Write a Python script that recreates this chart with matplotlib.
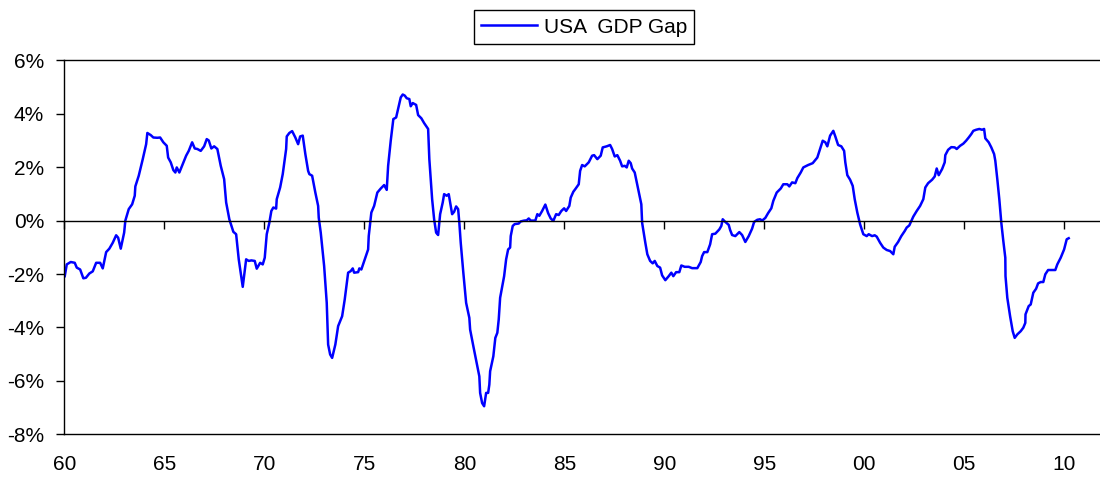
import matplotlib
matplotlib.use("Agg")
import matplotlib.pyplot as plt
import numpy as np

plt.rcParams["font.family"] = ["Liberation Sans", "DejaVu Sans"]

# USA output gap (%)
years = [
    1960.02, 1960.12, 1960.32, 1960.52, 1960.62, 1960.79, 1960.95, 1961.08, 1961.25, 1961.42,
    1961.59, 1961.79, 1961.92, 1962.09, 1962.25, 1962.42, 1962.59, 1962.69, 1962.82, 1962.99,
    1963.05, 1963.22, 1963.39, 1963.52, 1963.55, 1963.72, 1963.92, 1964.09, 1964.15, 1964.32,
    1964.45, 1964.65, 1964.79, 1964.95, 1965.12, 1965.19, 1965.32, 1965.45, 1965.55, 1965.62,
    1965.75, 1965.92, 1966.09, 1966.22, 1966.39, 1966.52, 1966.65, 1966.82, 1966.99, 1967.12,
    1967.22, 1967.35, 1967.49, 1967.65, 1967.82, 1967.99, 1968.09, 1968.25, 1968.45,
    1968.59, 1968.72, 1968.92, 1969.09, 1969.22, 1969.35, 1969.52, 1969.62, 1969.79, 1969.92,
    1970.02, 1970.12, 1970.25, 1970.35, 1970.45, 1970.59, 1970.62, 1970.79, 1970.92, 1971.09,
    1971.12, 1971.25, 1971.39, 1971.55, 1971.69, 1971.79, 1971.92, 1972.05, 1972.19, 1972.25,
    1972.39, 1972.55, 1972.69, 1972.72, 1972.82, 1972.99, 1973.12, 1973.19, 1973.29, 1973.39,
    1973.55, 1973.69, 1973.89, 1974.02, 1974.19, 1974.32, 1974.42, 1974.49, 1974.69, 1974.75,
    1974.85, 1975.02, 1975.19, 1975.22, 1975.35, 1975.49, 1975.65, 1975.82, 1975.99, 1976.12,
    1976.19, 1976.32, 1976.45, 1976.59, 1976.69, 1976.82, 1976.92,
    1977.02, 1977.12, 1977.25, 1977.32, 1977.42, 1977.59, 1977.69, 1977.85, 1977.99, 1978.19,
    1978.25, 1978.39, 1978.49, 1978.59, 1978.69, 1978.79, 1978.92, 1978.99, 1979.12, 1979.22,
    1979.29, 1979.39, 1979.49, 1979.59, 1979.69, 1979.75, 1979.82, 1979.95, 1980.09, 1980.25,
    1980.29, 1980.45, 1980.62, 1980.75, 1980.79, 1980.89, 1980.99, 1981.09, 1981.19, 1981.25,
    1981.29, 1981.45, 1981.55, 1981.65, 1981.72, 1981.79, 1981.99, 1982.09, 1982.19, 1982.29,
    1982.32, 1982.42, 1982.52, 1982.72, 1982.82, 1982.99, 1983.12, 1983.22, 1983.32, 1983.55,
    1983.65, 1983.75, 1983.89, 1984.05, 1984.19, 1984.32, 1984.45, 1984.59, 1984.72, 1984.85,
    1984.99, 1985.09, 1985.25, 1985.32, 1985.45,
    1985.55, 1985.72, 1985.79, 1985.89, 1986.02, 1986.22, 1986.39, 1986.49, 1986.65, 1986.82,
    1986.92, 1987.12, 1987.29, 1987.39, 1987.52, 1987.65, 1987.79, 1987.89, 1988.02, 1988.12,
    1988.22, 1988.32, 1988.39, 1988.52, 1988.69, 1988.85, 1988.89, 1989.05, 1989.15, 1989.29,
    1989.42, 1989.52, 1989.65, 1989.79, 1989.89, 1990.05, 1990.22, 1990.35, 1990.45, 1990.59,
    1990.75, 1990.85, 1991.02, 1991.22, 1991.39, 1991.65, 1991.82, 1991.89, 1991.99, 1992.15,
    1992.29, 1992.39, 1992.55, 1992.75, 1992.85, 1992.92, 1993.02, 1993.22, 1993.29, 1993.39,
    1993.55, 1993.75, 1993.89,
    1994.05, 1994.22, 1994.39, 1994.49, 1994.65, 1994.79, 1994.89, 1995.05, 1995.19, 1995.35,
    1995.45, 1995.62, 1995.82, 1995.95, 1996.15, 1996.25, 1996.39, 1996.55, 1996.65, 1996.82,
    1996.95, 1997.19, 1997.42, 1997.65, 1997.79, 1997.92, 1998.05, 1998.15, 1998.29, 1998.45,
    1998.55, 1998.69, 1998.85, 1998.99, 1999.05, 1999.15, 1999.29, 1999.42, 1999.52, 1999.65,
    1999.79, 1999.95, 2000.12, 2000.22, 2000.39, 2000.52, 2000.62, 2000.79, 2000.95, 2001.12,
    2001.29, 2001.45, 2001.52, 2001.69, 2001.85, 2002.02, 2002.12, 2002.25,
    2002.45, 2002.62, 2002.79, 2002.95, 2003.05, 2003.19, 2003.39, 2003.52, 2003.62, 2003.72,
    2003.89, 2004.02, 2004.05, 2004.19, 2004.35, 2004.52, 2004.62, 2004.79, 2004.95, 2005.09,
    2005.22, 2005.35, 2005.45, 2005.59, 2005.75, 2005.89, 2005.99, 2006.05, 2006.22, 2006.35,
    2006.49, 2006.55, 2006.65, 2006.75, 2006.85, 2006.95, 2007.05, 2007.06, 2007.15, 2007.29,
    2007.42, 2007.52, 2007.65, 2007.82, 2007.95, 2008.05, 2008.06, 2008.22, 2008.32, 2008.45,
    2008.59, 2008.69, 2008.82, 2008.95, 2009.05, 2009.19, 2009.39, 2009.55, 2009.65, 2009.82,
    2009.99, 2010.12, 2010.22,
]
gap = [
    -2.08, -1.64, -1.55, -1.58, -1.76, -1.83, -2.16, -2.14, -1.98, -1.90,
    -1.58, -1.58, -1.79, -1.18, -1.05, -0.83, -0.55, -0.64, -1.05, -0.45,
    0.00, 0.43, 0.61, 0.93, 1.28, 1.68, 2.30, 2.86, 3.28, 3.20,
    3.11, 3.10, 3.11, 2.93, 2.80, 2.36, 2.18, 1.89, 1.80, 1.99,
    1.80, 2.11, 2.43, 2.61, 2.93, 2.70, 2.68, 2.61, 2.78, 3.05,
    3.00, 2.70, 2.78, 2.68, 2.05, 1.55, 0.68, 0.05, -0.42,
    -0.51, -1.45, -2.48, -1.45, -1.51, -1.49, -1.51, -1.80, -1.58, -1.64,
    -1.39, -0.51, -0.08, 0.36, 0.49, 0.45, 0.80, 1.24, 1.74, 2.68,
    3.15, 3.28, 3.35, 3.11, 2.86, 3.15, 3.18, 2.49, 1.86, 1.74,
    1.68, 1.05, 0.55, 0.11, -0.45, -1.70, -3.08, -4.64, -5.01, -5.14,
    -4.64, -3.95, -3.58, -2.95, -1.95, -1.89, -1.79, -1.95, -1.93, -1.79,
    -1.83, -1.45, -1.08, -0.58, 0.30, 0.55, 1.05, 1.20, 1.33, 1.15,
    2.05, 2.99, 3.80, 3.86, 4.18, 4.61, 4.72,
    4.68, 4.58, 4.55, 4.28, 4.40, 4.33, 3.95, 3.83, 3.65, 3.43,
    2.30, 0.80, 0.05, -0.45, -0.54, 0.24, 0.68, 0.99, 0.93, 0.99,
    0.68, 0.24, 0.33, 0.53, 0.43, -0.08, -0.83, -1.95, -3.08, -3.64,
    -4.08, -4.70, -5.33, -5.83, -6.45, -6.83, -6.95, -6.45, -6.45, -6.14,
    -5.64, -5.08, -4.39, -4.20, -3.70, -2.89, -2.08, -1.45, -1.08, -1.01,
    -0.58, -0.20, -0.13, -0.11, -0.03, 0.00, 0.01, 0.08, 0.00, 0.00,
    0.24, 0.18, 0.36, 0.60, 0.28, 0.08, -0.01, 0.24, 0.21, 0.36,
    0.46, 0.36, 0.55, 0.86, 1.08,
    1.18, 1.36, 1.86, 2.08, 2.03, 2.18, 2.43, 2.45, 2.30, 2.43,
    2.74, 2.78, 2.83, 2.68, 2.40, 2.45, 2.24, 2.03, 2.05, 1.99,
    2.24, 2.15, 1.95, 1.80, 1.18, 0.61, -0.08, -0.83, -1.26, -1.51,
    -1.60, -1.51, -1.70, -1.76, -2.05, -2.23, -2.08, -1.95, -2.08, -1.93,
    -1.93, -1.68, -1.73, -1.73, -1.78, -1.78, -1.55, -1.33, -1.18, -1.18,
    -0.89, -0.51, -0.49, -0.33, -0.20, 0.05, -0.03, -0.16, -0.35, -0.54,
    -0.58, -0.43, -0.54,
    -0.80, -0.58, -0.30, -0.05, 0.03, 0.05, 0.00, 0.10, 0.28, 0.46,
    0.74, 1.05, 1.20, 1.36, 1.36, 1.28, 1.43, 1.40, 1.59, 1.80,
    1.99, 2.08, 2.15, 2.36, 2.68, 2.99, 2.93, 2.78, 3.18, 3.36,
    3.15, 2.83, 2.78, 2.61, 2.18, 1.70, 1.53, 1.30, 0.80, 0.30,
    -0.14, -0.51, -0.58, -0.51, -0.58, -0.55, -0.60, -0.83, -1.01, -1.10,
    -1.14, -1.26, -0.98, -0.80, -0.58, -0.39, -0.26, -0.18,
    0.15, 0.36, 0.55, 0.80, 1.24, 1.40, 1.53, 1.65, 1.95, 1.70,
    1.93, 2.18, 2.45, 2.65, 2.75, 2.74, 2.68, 2.80, 2.88, 2.99,
    3.11, 3.24, 3.36, 3.40, 3.43, 3.40, 3.43, 3.08, 2.93, 2.74,
    2.49, 2.24, 1.55, 0.80, -0.08, -0.76, -1.39, -2.08, -2.89, -3.58,
    -4.14, -4.39, -4.26, -4.14, -4.01, -3.83, -3.51, -3.20, -3.14, -2.70,
    -2.55, -2.35, -2.30, -2.30, -2.01, -1.85, -1.85, -1.85, -1.64, -1.39,
    -1.08, -0.70, -0.66,
]

x_ticks = list(range(1960, 2011, 5))
x_labels = [f"{y % 100:02d}" for y in x_ticks]
y_ticks = list(range(-8, 7, 2))
y_labels = [f"{v}%" for v in y_ticks]

fig = plt.figure(figsize=(11, 4.79), dpi=100)
ax = fig.add_axes([0.0585, 0.0933, 0.9415, 0.7808])

line, = ax.plot(years, gap, color="#0000ff", linewidth=1.8, label="USA  GDP Gap")

ax.set_xlim(1960, 2011.785)
ax.set_ylim(-8, 6)

# zero line carries the year tick marks
ax.spines["bottom"].set_position(("data", 0))
ax.spines["right"].set_visible(False)
for s in ["bottom", "top", "left"]:
    ax.spines[s].set_linewidth(1.0)
    ax.spines[s].set_color("black")
ax.set_xticks(x_ticks)
ax.tick_params(axis="x", direction="out", length=6, width=1, labelbottom=False)

# year labels along the bottom edge
sec = ax.secondary_xaxis("bottom")
sec.set_xticks(x_ticks, x_labels)
sec.tick_params(length=0, pad=15, labelsize=15)
sec.spines["bottom"].set_linewidth(1.0)

ax.set_yticks(y_ticks, y_labels)
ax.tick_params(axis="y", direction="out", length=6, width=1, pad=8.5, labelsize=15)

fig.legend(handles=[line], loc="center", bbox_to_anchor=(0.531, 0.9436),
           fontsize=15, frameon=True, fancybox=False, edgecolor="black",
           framealpha=1, handlelength=2.7, handletextpad=0.3, borderpad=0.35)
fig.legends[0].get_frame().set_linewidth(1.0)

fig.savefig("out.png", dpi=100)
